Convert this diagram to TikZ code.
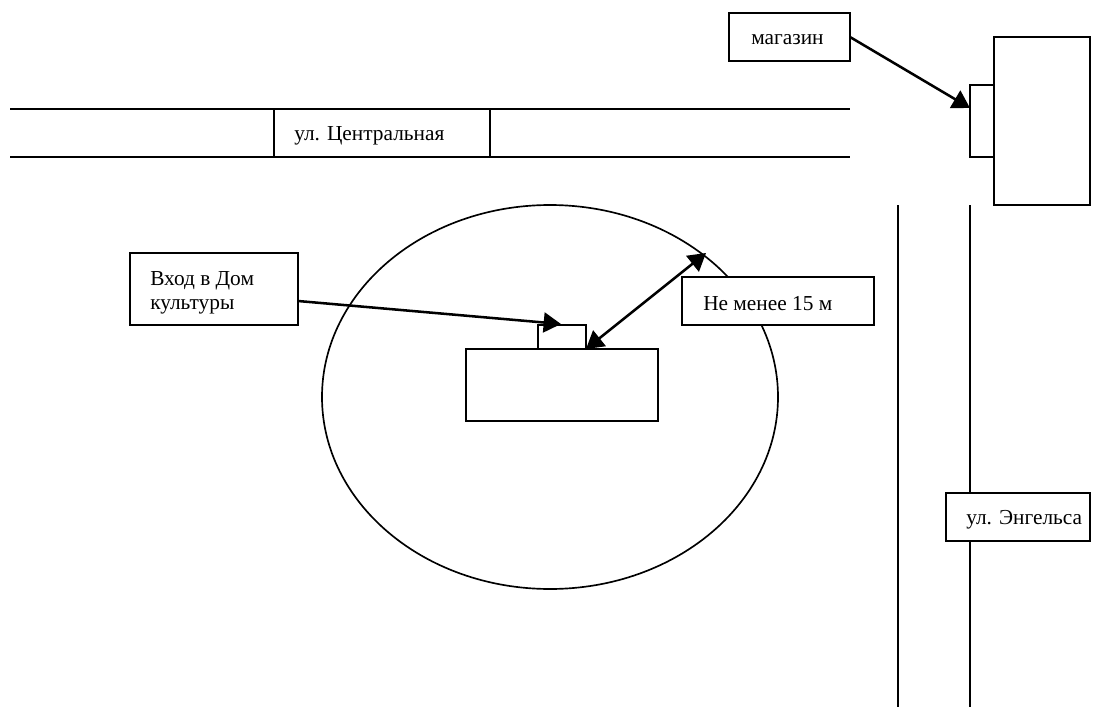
\documentclass[tikz,border=0pt]{standalone}
\usepackage{fontspec}
\setmainfont{Liberation Serif}
\usetikzlibrary{arrows.meta}
\tikzset{
  ln/.style={line width=1.25pt,black},
  lbl/.style={ln,draw,fill=white,rectangle,anchor=north west,inner sep=0pt,outer sep=0pt},
  txt/.style={anchor=west,inner sep=0pt,font=\fontsize{16}{18}\selectfont},
  shape box/.style={ln,draw,fill=white,rectangle,anchor=north west,inner sep=0pt,outer sep=0pt},
  hd/.tip={Triangle[length=13pt,width=15pt]},
  arr/.style={line width=1.9pt,-hd},
  darr/.style={line width=1.9pt,hd-hd}
}
\begin{document}
\begin{tikzpicture}[x=0.75pt,y=-0.75pt]
\useasboundingbox (0,0) rectangle (1104,707);
% roads
\coordinate (r1a) at (10,109); \coordinate (r1b) at (850,109);
\coordinate (r2a) at (10,157); \coordinate (r2b) at (850,157);
\coordinate (v1a) at (898,205); \coordinate (v1b) at (898,707);
\coordinate (v2a) at (970,205); \coordinate (v2b) at (970,707);
\draw[ln] (r1a) -- (r1b);
\draw[ln] (r2a) -- (r2b);
\draw[ln] (v1a) -- (v1b);
\draw[ln] (v2a) -- (v2b);
% circle
\draw[ln] (550,397) ellipse [x radius=228,y radius=192];
% buildings
\node[shape box,minimum width=36pt,minimum height=18pt] (door) at (538,325) {};
\node[shape box,minimum width=144pt,minimum height=54pt] (dk) at (466,349) {};
\node[shape box,minimum width=18pt,minimum height=54pt] (sdoor) at (970,85) {};
\node[shape box,minimum width=72pt,minimum height=126pt] (shop) at (994,37) {};
% labels
\node[lbl,minimum width=162pt,minimum height=36pt] (cen) at (274,109) {};
\node[txt] (cent) at (294,136) {ул. Центральная};
\node[lbl,minimum width=90.75pt,minimum height=36pt] (mag) at (729,13) {};
\node[txt] (magt) at (751,40) {магазин};
\node[lbl,minimum width=126pt,minimum height=54pt] (vhod) at (130,253) {};
\node[txt,anchor=north west,align=left] (vhodt) at (150,271) {Вход в Дом\\культуры};
\node[lbl,minimum width=144pt,minimum height=36pt] (nm) at (682,277) {};
\node[txt] (nmt) at (703,304) {Не менее 15 м};
\node[lbl,minimum width=108pt,minimum height=36pt] (eng) at (946,493) {};
\node[txt] (engt) at (966,520) {ул. Энгельса};
% arrows
\coordinate (a1) at (298,301);
\coordinate (a2) at (561,324);
\coordinate (b1) at (850,37);
\coordinate (b2) at (970,108);
\coordinate (c1) at (586,349);
\coordinate (c2) at (706,253);
\draw[arr] (a1) -- (a2);
\draw[arr] (b1) -- (b2);
\draw[darr] (c1) -- (c2);
\end{tikzpicture}
\end{document}
